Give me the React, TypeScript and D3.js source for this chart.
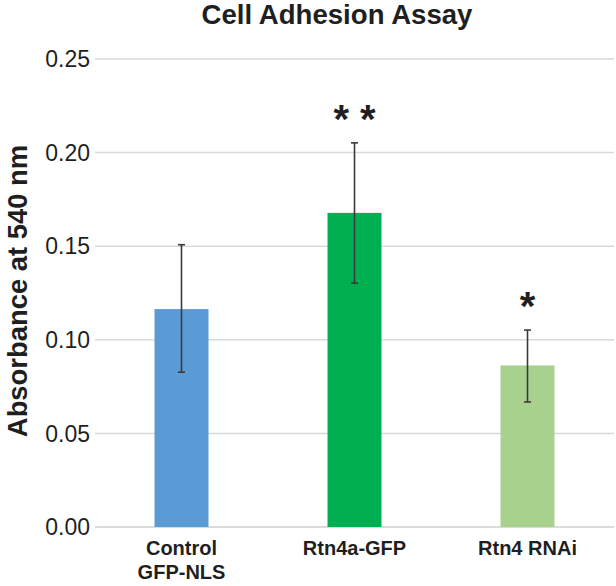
import React from "react";
import * as d3 from "d3";

const categories = ["Control\nGFP-NLS", "Rtn4a-GFP", "Rtn4 RNAi"];
const values = [0.1164, 0.1678, 0.0863];
const errLow = [0.0827, 0.1303, 0.0668];
const errHigh = [0.1508, 0.2052, 0.1052];
const annotations = ["", "* *", "*"];
const barColors = ["#5B9BD5", "#00B050", "#A9D18E"];
const yTicks = [0, 0.05, 0.1, 0.15, 0.2, 0.25];

const W = 616;
const H = 586;
const left = 95;
const right = 614;
const top = 59;
const bottom = 527;

export default function App() {
  const x = d3
    .scaleBand<number>()
    .domain(categories.map((_, i) => i))
    .range([left, right])
    .paddingInner(0.688)
    .paddingOuter(0.344);
  const y = d3.scaleLinear().domain([0, 0.25]).range([bottom, top]);
  const font = "'Liberation Sans', Arial, sans-serif";
  const textColor = "#1f1f1f";

  return (
    <svg
      width={W}
      height={H}
      style={{ position: "absolute", left: 0, top: 0, background: "#fff" }}
      fontFamily={font}
    >
      <text x={337} y={24} textAnchor="middle" fontSize={27.6} fontWeight="bold" fill={textColor}>
        Cell Adhesion Assay
      </text>
      {yTicks.map((t) => (
        <g key={t}>
          <line
            x1={left}
            x2={right}
            y1={y(t)}
            y2={y(t)}
            stroke={t === 0 ? "#cfcfcf" : "#d9d9d9"}
            strokeWidth={1.5}
          />
          <text x={90} y={y(t)} dy="0.36em" textAnchor="end" fontSize={23} fill={textColor}>
            {d3.format(".2f")(t)}
          </text>
        </g>
      ))}
      <text
        transform={`translate(27,291) rotate(-90)`}
        textAnchor="middle"
        fontSize={27.4}
        fontWeight="bold"
        fill={textColor}
      >
        Absorbance at 540 nm
      </text>
      {values.map((v, i) => {
        const bx = x(i)!;
        const bw = x.bandwidth();
        const cx = bx + bw / 2;
        return (
          <g key={i}>
            <rect x={bx} y={y(v)} width={bw} height={y(0) - y(v)} fill={barColors[i]} />
            <line x1={cx} x2={cx} y1={y(errLow[i])} y2={y(errHigh[i])} stroke="#3a3a3a" strokeWidth={1.6} />
            <line x1={cx - 3.5} x2={cx + 3.5} y1={y(errLow[i])} y2={y(errLow[i])} stroke="#3a3a3a" strokeWidth={1.6} />
            <line x1={cx - 3.5} x2={cx + 3.5} y1={y(errHigh[i])} y2={y(errHigh[i])} stroke="#3a3a3a" strokeWidth={1.6} />
            {annotations[i] && (
              <text
                x={cx}
                y={y(errHigh[i]) - 10}
                textAnchor="middle"
                fontSize={40}
                fontWeight="bold"
                fill={textColor}
              >
                {annotations[i]}
              </text>
            )}
            {categories[i].split("\n").map((line, j) => (
              <text
                key={j}
                x={cx}
                y={555 + j * 23.5}
                textAnchor="middle"
                fontSize={20}
                fontWeight="bold"
                fill={textColor}
              >
                {line}
              </text>
            ))}
          </g>
        );
      })}
    </svg>
  );
}
